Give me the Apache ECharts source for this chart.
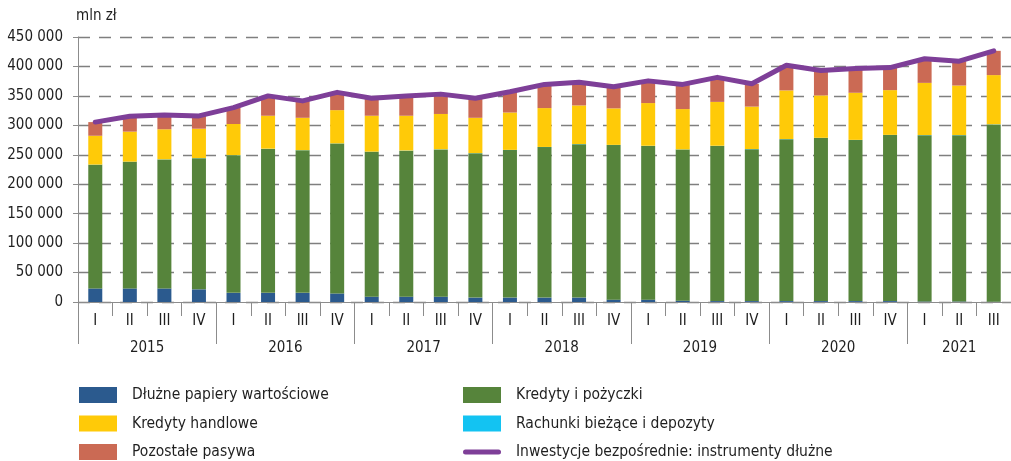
<!DOCTYPE html>
<html>
<head>
<meta charset="utf-8">
<script src="https://cdn.jsdelivr.net/npm/echarts@6/dist/echarts.min.js"></script>
<style>
  html, body { margin: 0; padding: 0; background: #fff; }
  #chart { width: 1011px; height: 461px; }
</style>
</head>
<body>
<div id="chart"></div>
<script>
var quarters = ["I", "II", "III", "IV", "I", "II", "III", "IV", "I", "II", "III", "IV",
  "I", "II", "III", "IV", "I", "II", "III", "IV", "I", "II", "III", "IV", "I", "II", "III"];
var years = ["2015", "2016", "2017", "2018", "2019", "2020", "2021"];
var yTicks = [0, 50000, 100000, 150000, 200000, 250000, 300000, 350000, 400000, 450000];

// mln zł
var dluzne = [23000, 23000, 23000, 21500, 15500, 15500, 15500, 14500, 9000, 9000, 9000, 7500,
  7500, 7500, 7500, 4000, 4000, 2300, 1500, 1500, 1500, 1500, 1500, 1500, 800, 800, 500];
var kredyty = [210000, 215000, 219000, 222500, 233500, 244500, 242000, 254500, 246000, 248000, 250000, 245000,
  250500, 255500, 260500, 262500, 261000, 256500, 263500, 258000, 275000, 277000, 273500, 282000, 282500, 282500, 301000];
var rachunki = [300, 300, 300, 300, 300, 300, 300, 300, 300, 300, 300, 300,
  300, 300, 300, 300, 300, 300, 300, 300, 300, 300, 300, 300, 300, 300, 300];
var handlowe = [49000, 51000, 51000, 50000, 53000, 56000, 55000, 56500, 61000, 59000, 60000, 60000,
  63500, 66000, 65500, 62000, 72500, 68500, 74500, 72000, 82500, 72000, 80000, 76000, 88500, 84000, 83500];
var pozostale = [23200, 26200, 24200, 21700, 27700, 33700, 28700, 30200, 29700, 33700, 33700, 33200,
  35200, 40200, 39200, 36700, 37700, 41700, 41700, 38700, 42700, 42200, 41200, 38200, 40700, 41200, 41200];
var inwestycje = [305500, 315500, 317500, 316000, 330000, 350000, 341500, 356000, 346000, 350000, 353000, 346000,
  357000, 369500, 373000, 365500, 375500, 369500, 381500, 370500, 402000, 393000, 396500, 398000, 413000, 409000, 426500];

// year boundaries and centres (in quarter units), counted from the quarter labels
var yearStarts = [], yearCenters = [];
quarters.forEach(function (q, i) { if (q === "I") yearStarts.push(i); });
yearStarts.forEach(function (s, k) {
  var e = k + 1 < yearStarts.length ? yearStarts[k + 1] : quarters.length;
  yearCenters.push((s + e) / 2);
});

var font = "'Liberation Sans Narrow', 'DejaVu Sans Condensed', sans-serif";
var txt = "#1f1f1f";
var axisGrey = "#8c8c8c";
var fs = 15;

function barSeries(name, data, color) {
  return {
    name: name,
    type: "bar",
    stack: "total",
    barWidth: 14,
    data: data,
    itemStyle: { color: color }
  };
}

var legendBase = {
  orient: "vertical", top: 387, height: 80, padding: 0,
  icon: "rect",
  itemWidth: 38, itemHeight: 16, itemGap: 12.5,
  textStyle: { fontFamily: font, fontSize: 15.5, color: txt, padding: [0, 0, 0, 10] }
};

var chart = echarts.init(document.getElementById("chart"));
chart.setOption({
  animation: false,
  textStyle: { fontFamily: font, color: txt },
  grid: { left: 78, top: 37, width: 937, height: 265 },
  legend: [
    Object.assign({}, legendBase, {
      left: 79,
      data: ["Dłużne papiery wartościowe", "Kredyty handlowe", "Pozostałe pasywa"]
    }),
    Object.assign({}, legendBase, {
      left: 463,
      data: ["Kredyty i pożyczki", "Rachunki bieżące i depozyty", {
        name: "Inwestycje bezpośrednie: instrumenty dłużne",
        icon: "path://M2.5,0 H35.5 A2.5,2.5 0 0 1 35.5,5 H2.5 A2.5,2.5 0 0 1 2.5,0 Z"
      }]
    })
  ],
  xAxis: [
    {
      type: "category",
      data: quarters,
      axisLine: { lineStyle: { color: axisGrey, width: 1 } },
      axisTick: { show: true, interval: 0, length: 14, lineStyle: { color: axisGrey } },
      axisLabel: { interval: 0, margin: 12, fontFamily: font, fontSize: fs, color: txt }
    },
    {
      type: "value",
      min: 0,
      max: quarters.length,
      position: "bottom",
      axisLine: { show: false },
      splitLine: { show: false },
      axisTick: { show: true, customValues: yearStarts, length: 42, lineStyle: { color: axisGrey } },
      axisLabel: {
        customValues: yearCenters,
        margin: 39,
        fontFamily: font, fontSize: fs, color: txt,
        formatter: function (v) { return years[yearCenters.indexOf(v)]; }
      }
    }
  ],
  yAxis: {
    type: "value",
    min: yTicks[0],
    max: yTicks[yTicks.length - 1],
    interval: yTicks[1] - yTicks[0],
    name: "mln zł",
    nameLocation: "end",
    nameGap: 13,
    nameTextStyle: { align: "left", fontFamily: font, fontSize: fs, color: txt, padding: [0, 0, 0, -2] },
    axisLine: { show: true, lineStyle: { color: axisGrey } },
    axisTick: { show: true, length: 5, lineStyle: { color: axisGrey } },
    axisLabel: {
      margin: 15, fontFamily: font, fontSize: fs, color: txt,
      formatter: function (v) { return String(v).replace(/\B(?=(\d{3})+(?!\d))/g, " "); }
    },
    splitLine: { lineStyle: { color: "#7f7f7f", type: [12, 9], width: 1.3 } }
  },
  series: [
    barSeries("Dłużne papiery wartościowe", dluzne, "#2b5a8e"),
    barSeries("Kredyty i pożyczki", kredyty, "#56843b"),
    barSeries("Rachunki bieżące i depozyty", rachunki, "#13c3f2"),
    barSeries("Kredyty handlowe", handlowe, "#ffca08"),
    barSeries("Pozostałe pasywa", pozostale, "#cb6a54"),
    {
      name: "Inwestycje bezpośrednie: instrumenty dłużne",
      type: "line",
      data: inwestycje,
      symbol: "none",
      z: 5,
      lineStyle: { color: "#7e3f98", width: 5, cap: "round", join: "round" },
      itemStyle: { color: "#7e3f98" }
    }
  ]
});
</script>
</body>
</html>
